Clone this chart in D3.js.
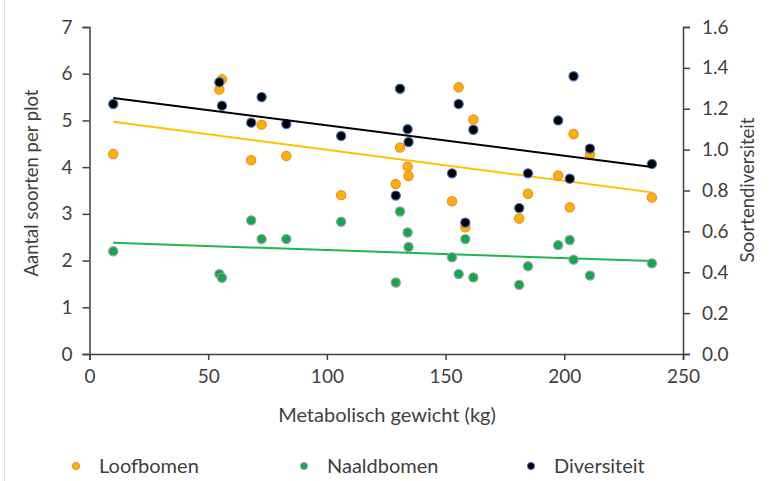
<!DOCTYPE html>
<html>
<head>
<meta charset="utf-8">
<script src="https://cdn.jsdelivr.net/npm/d3@7"></script>
<style>
  body { margin: 0; background: #fff; }
  text { font-family: Lato, "Open Sans", sans-serif; fill: #404040; }
</style>
</head>
<body>
<script>
// metabolisch gewicht per plot (kg)
var gewicht = [10, 54.7, 55.8, 68.1, 72.5, 82.9, 106, 129, 130.8, 134, 134.4, 152.7,
               155.5, 158.3, 161.7, 181, 184.7, 197.4, 202.3, 203.9, 210.8, 236.9];
var loofbomen = [4.28, 5.66, 5.88, 4.15, 4.91, 4.24, 3.40, 3.64, 4.42, 4.01, 3.81, 3.27,
                 5.71, 2.71, 5.02, 2.90, 3.43, 3.82, 3.14, 4.71, 4.27, 3.35];
var naaldbomen = [2.20, 1.71, 1.63, 2.86, 2.46, 2.46, 2.83, 1.53, 3.05, 2.60, 2.29, 2.07,
                  1.71, 2.46, 1.64, 1.48, 1.88, 2.33, 2.44, 2.02, 1.68, 1.94];
var diversiteit = [1.223, 1.33, 1.215, 1.132, 1.257, 1.125, 1.067, 0.775, 1.298, 1.10, 1.037, 0.884,
                   1.223, 0.643, 1.097, 0.714, 0.884, 1.143, 0.858, 1.359, 1.005, 0.930];

// trendlijnen (begin- en eindwaarde)
var trendX = [10, 236.9];
var trendLoof = [4.97, 3.46];
var trendNaald = [2.38, 1.99];
var trendDiv = [1.253, 0.915];

var xTicks = [0, 50, 100, 150, 200, 250];
var yLeftTicks = [0, 1, 2, 3, 4, 5, 6, 7];
var yRightTicks = [0, 0.2, 0.4, 0.6, 0.8, 1.0, 1.2, 1.4, 1.6];

var width = 772, height = 481;
var margin = {top: 27, right: 89, bottom: 127, left: 89.5};

var svg = d3.select('body').append('svg')
    .attr('width', width)
    .attr('height', height);

// dunne rand links
svg.append('line')
    .attr('x1', 4.5).attr('x2', 4.5).attr('y1', 0).attr('y2', height)
    .style('stroke', '#dcdcdc');

var x = d3.scaleLinear().domain([0, 250]).range([margin.left, width - margin.right]);
var yL = d3.scaleLinear().domain([0, 7]).range([height - margin.bottom, margin.top]);
var yR = d3.scaleLinear().domain([0, 1.6]).range([height - margin.bottom, margin.top]);

function styleAxis(g) {
    g.selectAll('path, line').style('stroke', '#404040').style('stroke-width', 1.5);
    g.selectAll('text').style('font-size', '19px').style('fill', '#404040');
}

svg.append('g')
    .attr('transform', 'translate(0,' + yL(0) + ')')
    .call(d3.axisBottom(x).tickValues(xTicks).tickSizeOuter(0).tickSize(6).tickPadding(10))
    .call(styleAxis);

svg.append('g')
    .attr('transform', 'translate(' + x(0) + ',0)')
    .call(d3.axisLeft(yL).tickValues(yLeftTicks).tickFormat(d3.format('d')).tickSizeOuter(0).tickSize(7).tickPadding(10))
    .call(styleAxis);

svg.append('g')
    .attr('transform', 'translate(' + x(250) + ',0)')
    .call(d3.axisRight(yR).tickValues(yRightTicks).tickFormat(d3.format('.1f')).tickSizeOuter(0).tickSize(7).tickPadding(12))
    .call(styleAxis);

// titels
svg.append('text')
    .attr('x', 387).attr('y', 415)
    .attr('dy', '0.35em')
    .attr('text-anchor', 'middle')
    .style('font-size', '20px')
    .text('Metabolisch gewicht (kg)');

svg.append('text')
    .attr('transform', 'translate(38,' + 183 + ') rotate(-90)')
    .attr('text-anchor', 'middle')
    .style('font-size', '18.5px')
    .text('Aantal soorten per plot');

svg.append('text')
    .attr('transform', 'translate(754,' + 190 + ') rotate(-90)')
    .attr('text-anchor', 'middle')
    .style('font-size', '18.5px')
    .text('Soortendiversiteit');

// trendlijnen
var lineL = d3.line().x(function(d, i) { return x(trendX[i]); }).y(function(d) { return yL(d); });
var lineR = d3.line().x(function(d, i) { return x(trendX[i]); }).y(function(d) { return yR(d); });

svg.append('path').attr('d', lineL(trendNaald))
    .style('fill', 'none').style('stroke', '#1fb550').style('stroke-width', 2);
svg.append('path').attr('d', lineL(trendLoof))
    .style('fill', 'none').style('stroke', '#ffc000').style('stroke-width', 2);

var series = [
    {name: 'Loofbomen', values: loofbomen, y: yL, fill: '#ffb000', stroke: '#f08a2c'},
    {name: 'Naaldbomen', values: naaldbomen, y: yL, fill: '#14a84c', stroke: '#a0a0a0'},
    {name: 'Diversiteit', values: diversiteit, y: yR, fill: '#000000', stroke: '#4472c4'}
];

series.forEach(function(s) {
    svg.append('g').selectAll('circle')
        .data(s.values)
        .enter()
        .append('circle')
        .attr('cx', function(d, i) { return x(gewicht[i]); })
        .attr('cy', function(d) { return s.y(d); })
        .attr('r', 4.6)
        .style('fill', s.fill)
        .style('stroke', s.stroke)
        .style('stroke-width', 1.2);
});

svg.append('path').attr('d', lineR(trendDiv))
    .style('fill', 'none').style('stroke', '#000').style('stroke-width', 2);

// legenda
var legendX = [76, 304, 531];
var legend = svg.selectAll('.legend')
    .data(series)
    .enter()
    .append('g')
    .attr('class', 'legend')
    .attr('transform', function(d, i) { return 'translate(' + legendX[i] + ',466)'; });

legend.append('circle')
    .attr('r', 3.6)
    .style('fill', function(d) { return d.fill; })
    .style('stroke', function(d) { return d.stroke; })
    .style('stroke-width', 1);

legend.append('text')
    .attr('x', 23)
    .attr('dy', '0.35em')
    .style('font-size', '20px')
    .text(function(d) { return d.name; });
</script>
</body>
</html>
